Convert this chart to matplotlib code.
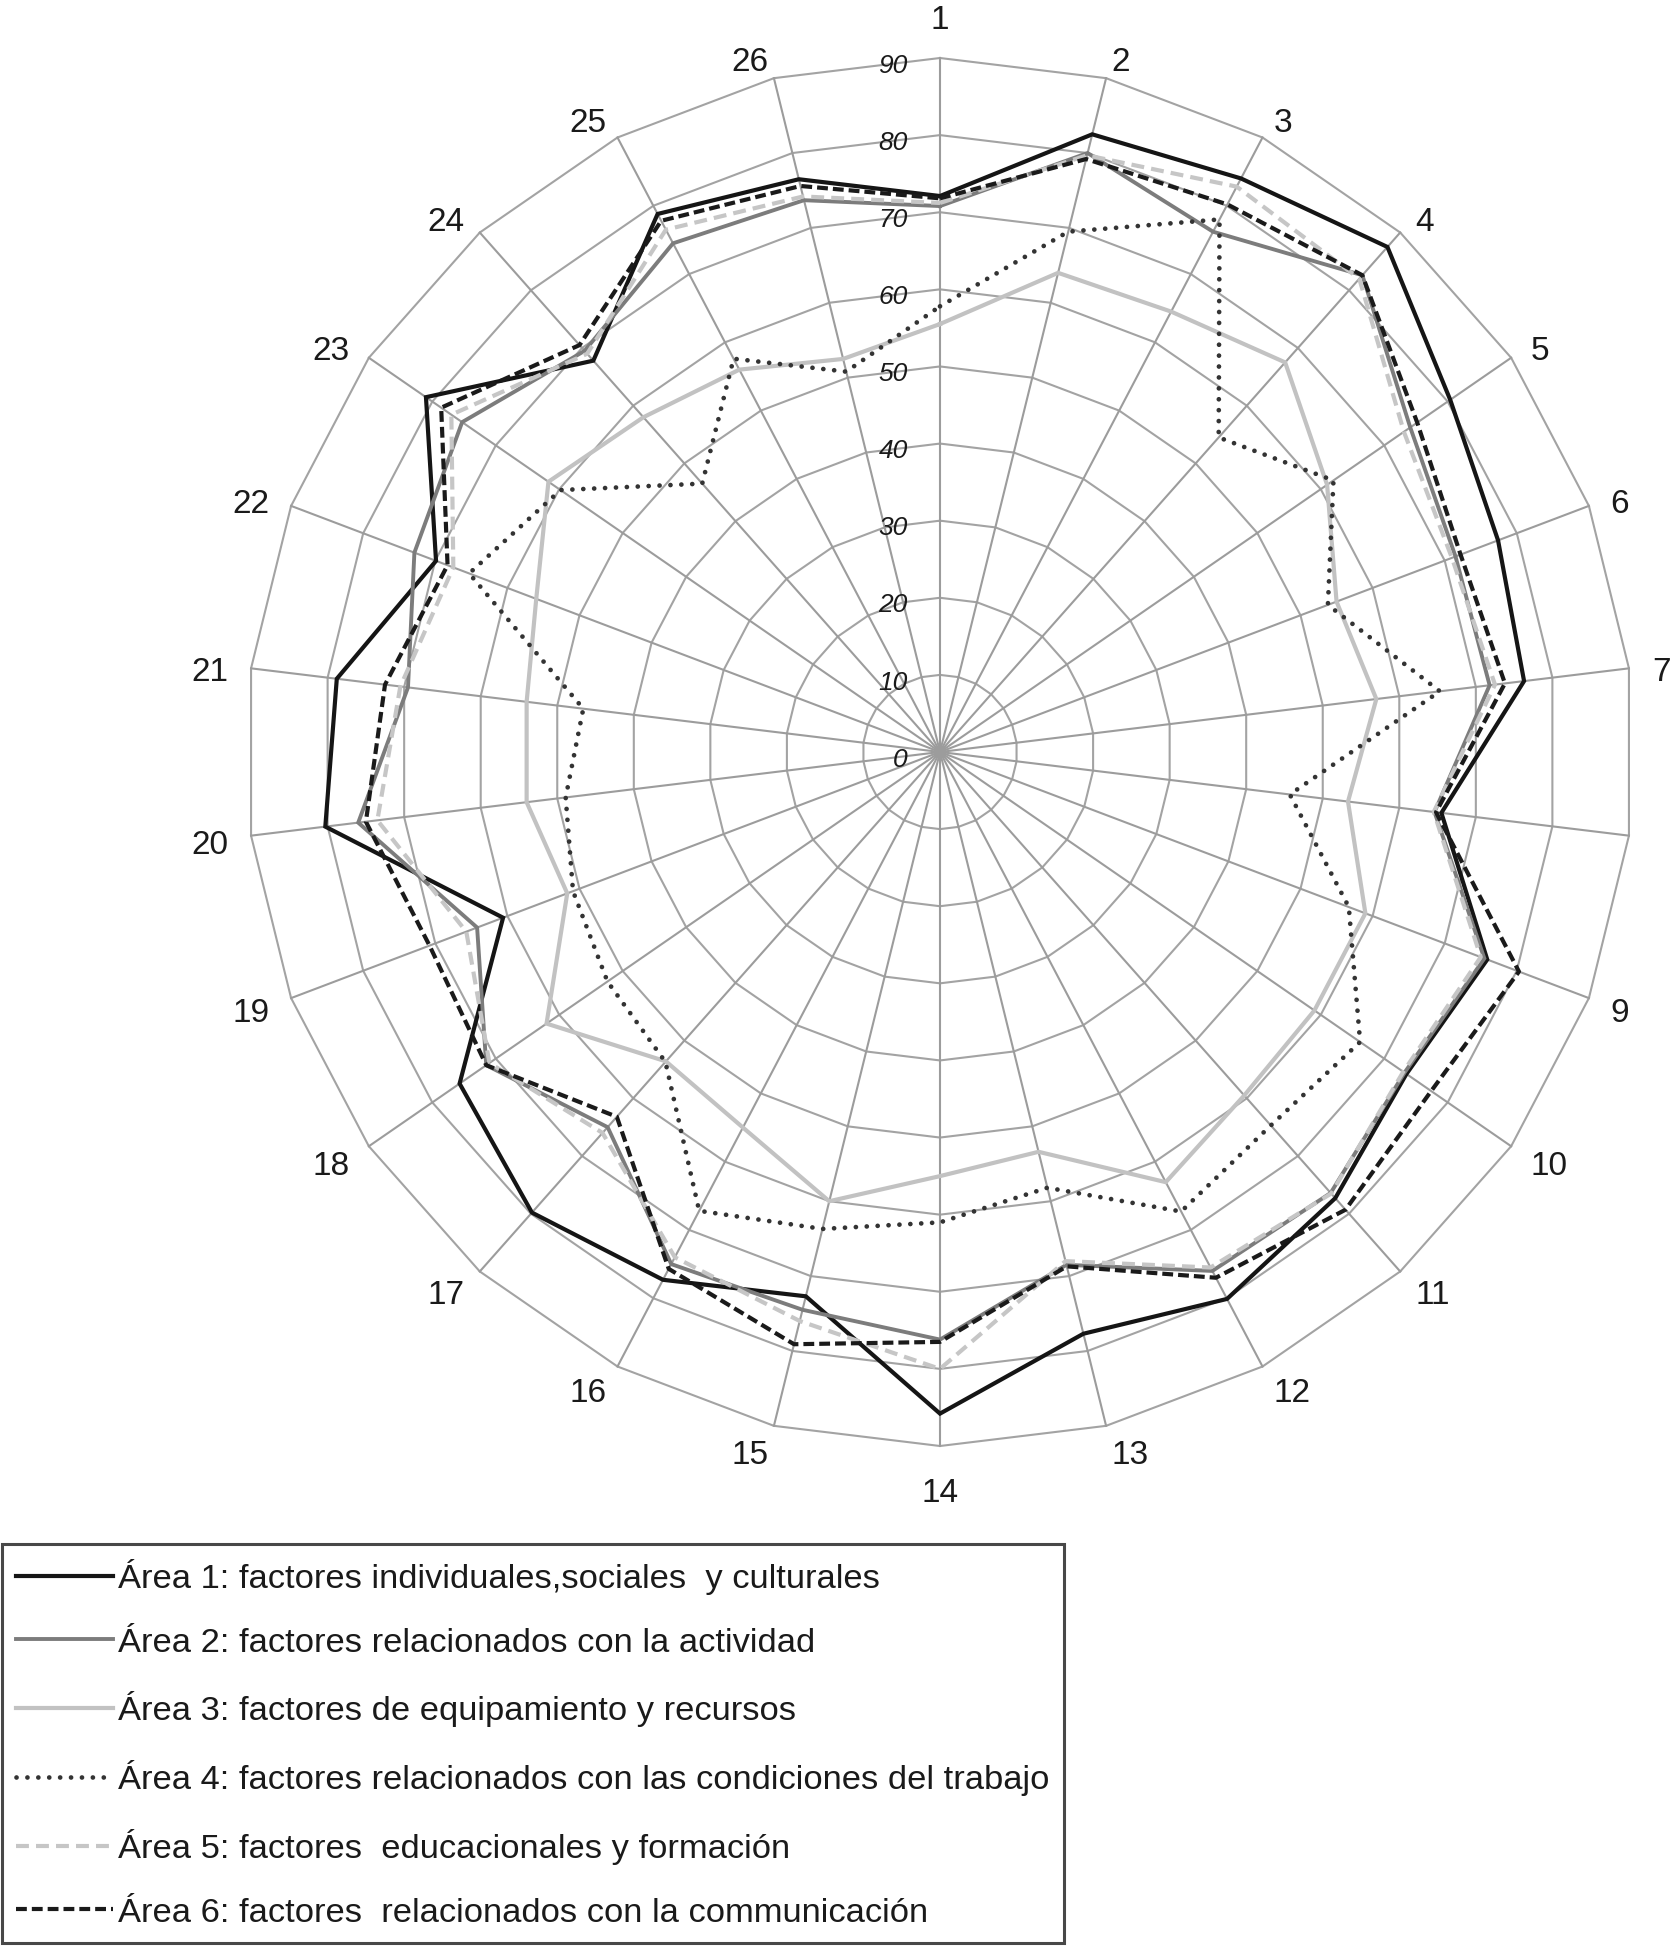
import numpy as np
import matplotlib
matplotlib.use("Agg")
import matplotlib.pyplot as plt

# =========================================================
# datos (26 items, escala 0-90)
# =========================================================

ITEMS = [str(i) for i in range(1, 27)]
# el item 8 no tiene etiqueta en el original
ITEM_LABELS = [s if s != "8" else "" for s in ITEMS]

RING_TICKS = [0, 10, 20, 30, 40, 50, 60, 70, 80, 90]

area1 = [72.1, 82.5, 84.0, 87.5, 80.4, 77.4, 76.3, 65.5, 75.9, 73.5, 77.3, 80.1, 77.7,
         85.8, 72.7, 77.3, 79.8, 75.7, 60.6, 80.3, 78.8, 69.9, 81.0, 67.8, 78.8, 76.5]
area2 = [70.8, 80.0, 76.2, 82.6, 74.1, 71.5, 71.8, 64.6, 75.5, 73.2, 76.4, 76.0, 68.5,
         76.2, 74.5, 75.0, 65.0, 71.5, 64.2, 76.0, 69.5, 72.9, 75.3, 69.5, 74.5, 73.7]
area3 = [55.5, 64.0, 64.5, 67.5, 61.0, 55.0, 57.0, 53.3, 59.0, 59.0, 59.5, 63.0, 53.4,
         55.0, 60.0, 55.0, 53.6, 62.0, 51.7, 54.0, 54.0, 56.0, 61.7, 58.0, 56.0, 52.5]
area4 = [57.8, 69.5, 78.0, 54.5, 62.0, 53.8, 65.3, 45.7, 56.7, 66.2, 64.7, 67.3, 58.2,
         61.0, 63.7, 67.2, 53.7, 52.4, 50.9, 48.9, 46.6, 65.3, 59.8, 46.5, 57.6, 50.8]
area5 = [71.2, 79.7, 82.8, 82.0, 73.1, 71.0, 72.5, 64.5, 75.0, 73.0, 76.5, 75.5, 68.0,
         80.0, 76.0, 74.0, 66.0, 71.0, 65.7, 73.5, 70.5, 67.5, 77.0, 69.0, 76.5, 74.2]
area6 = [71.8, 79.2, 80.2, 82.6, 75.2, 72.2, 73.8, 64.8, 80.3, 77.4, 79.3, 77.0, 68.7,
         76.5, 79.1, 75.7, 63.2, 71.5, 70.8, 75.0, 72.5, 68.3, 78.6, 70.5, 77.8, 75.6]

LEGEND_LABELS = [
    "Área 1: factores individuales,sociales  y culturales",
    "Área 2: factores relacionados con la actividad",
    "Área 3: factores de equipamiento y recursos",
    "Área 4: factores relacionados con las condiciones del trabajo",
    "Área 5: factores  educacionales y formación",
    "Área 6: factores  relacionados con la communicación",
]

# =========================================================
# estilos
# =========================================================

W, H = 1670, 1947
CX, CY = 940, 752          # centro en pixeles
PX_PER_UNIT = 694 / 90.0

GRID_COLOR = "#a3a3a3"
FONT = ["Liberation Sans", "DejaVu Sans"]

STYLES = [
    dict(color="#151515", lw=3.0, ls="-"),
    dict(color="#7c7c7c", lw=2.8, ls="-"),
    dict(color="#c2c2c2", lw=3.0, ls="-"),
    dict(color="#333333", lw=3.4, ls=(0, (0.01, 2.3)), dash_capstyle="round"),
    dict(color="#c6c6c6", lw=3.0, ls=(0, (3.1, 1.7))),
    dict(color="#1a1a1a", lw=3.0, ls=(0, (2.6, 1.2))),
]

plt.rcParams["font.family"] = FONT

n = len(ITEMS)
theta = np.arange(n) * 2 * np.pi / n


def to_xy(values):
    v = np.asarray(values, dtype=float)
    x = v * np.sin(theta)
    y = v * np.cos(theta)
    return np.append(x, x[0]), np.append(y, y[0])


fig = plt.figure(figsize=(W / 100, H / 100), dpi=100)
ax = fig.add_axes([0, 0, 1, 1])
ax.set_xlim(-CX / PX_PER_UNIT, (W - CX) / PX_PER_UNIT)
ax.set_ylim(-(H - CY) / PX_PER_UNIT, CY / PX_PER_UNIT)
ax.axis("off")

# ===== rejilla poligonal =====
for r in RING_TICKS[1:]:
    gx, gy = to_xy([r] * n)
    ax.plot(gx, gy, color=GRID_COLOR, lw=1.5, zorder=1)

rmax = RING_TICKS[-1]
for t in theta:
    ax.plot([0, rmax * np.sin(t)], [0, rmax * np.cos(t)],
            color="#9c9c9c", lw=1.5, zorder=1)

# ===== etiquetas de escala =====
for r in RING_TICKS:
    ax.text(-4.2, r - 1.0, str(r), ha="right", va="center",
            fontsize=19, style="italic", color="#1a1a1a", zorder=3)

# ===== etiquetas de items =====
for lab, t in zip(ITEM_LABELS, theta):
    if not lab:
        continue
    s, c = np.sin(t), np.cos(t)
    if abs(s) < 0.1:
        # arriba / abajo: centradas, algo mas lejos
        ax.text(0, 95.3 * c - (0.4 if c > 0 else 0.9), lab, ha="center", va="center",
                fontsize=24, color="#1a1a1a")
    else:
        ax.text(93.0 * s, 93.0 * c - 0.9, lab, ha="left" if s > 0 else "right",
                va="center", fontsize=24, color="#1a1a1a")

# ===== series =====
handles = []
for vals, st, lab in zip([area1, area2, area3, area4, area5, area6], STYLES, LEGEND_LABELS):
    sx, sy = to_xy(vals)
    extra = {k: v for k, v in st.items() if k not in ("color", "lw", "ls")}
    line, = ax.plot(sx, sy, color=st["color"], lw=st["lw"], linestyle=st["ls"],
                    label=lab, zorder=4, solid_joinstyle="miter", **extra)
    handles.append(line)

leg = fig.legend(
    handles=handles,
    loc="lower left",
    bbox_to_anchor=(2 / W, 4 / H),
    borderaxespad=0,
    frameon=True,
    fancybox=False,
    fontsize=24.8,
    handlelength=2.8,
    handletextpad=0.15,
    labelspacing=0.95,
    borderpad=0.42,
)
leg.get_frame().set_edgecolor("#1a1a1a")
leg.get_frame().set_linewidth(2.2)
for txt in leg.get_texts():
    txt.set_color("#1a1a1a")

fig.savefig("out.png", dpi=100)
